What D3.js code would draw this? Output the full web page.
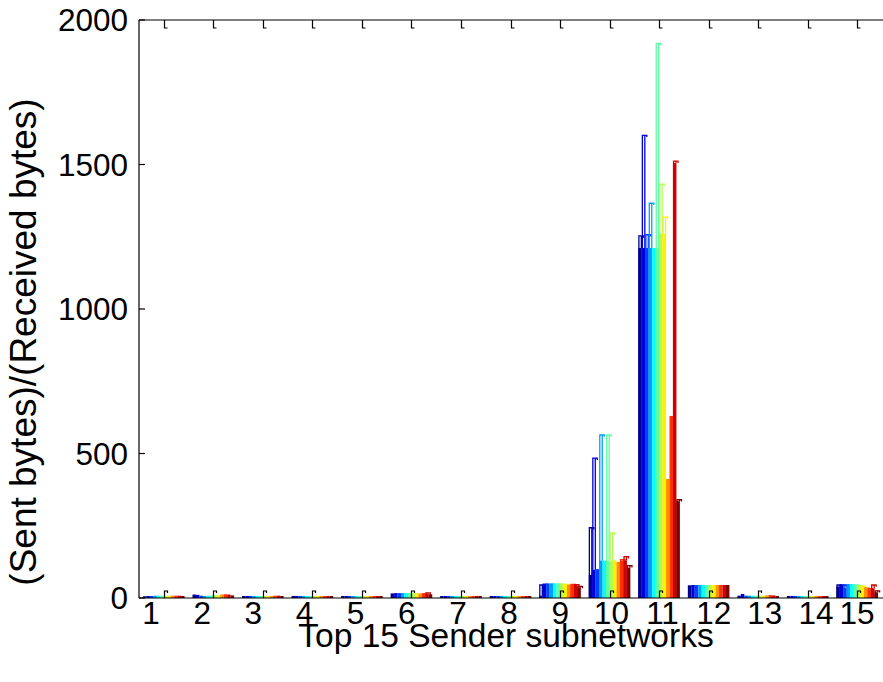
<!DOCTYPE html>
<html>
<head>
<meta charset="utf-8">
<script src="https://cdn.jsdelivr.net/npm/d3@7"></script>
<style>
  html, body { margin: 0; padding: 0; background: #fff; }
  svg { display: block; }
  text { font-family: "Liberation Sans", Arial, Helvetica, sans-serif; fill: #000; }
</style>
</head>
<body>
<svg id="chart" width="883" height="682"></svg>
<script>
// Subnetwork groups on the x axis
const groups = [1, 2, 3, 4, 5, 6, 7, 8, 9, 10, 11, 12, 13, 14, 15];
const yTicks = [0, 500, 1000, 1500, 2000];

// Sent/received byte ratio per series (12 series, one value per group)
const ratioS1  = [6, 12, 7, 7, 7, 16, 7, 7, 8, 80, 1211, 44, 8, 7, 40];
const ratioS2  = [7, 11, 7, 7, 7, 17, 7, 7, 47, 97, 1211, 45, 14, 7, 44];
const ratioS3  = [7, 8, 7, 7, 7, 17, 7, 7, 50, 100, 1211, 45, 8, 7, 36];
const ratioS4  = [8, 7, 7, 7, 7, 17, 7, 7, 51, 129, 1211, 45, 8, 7, 44];
const ratioS5  = [8, 8, 7, 7, 7, 17, 7, 7, 51, 129, 1211, 45, 8, 7, 44];
const ratioS6  = [8, 9, 7, 7, 7, 17, 7, 7, 51, 129, 1211, 45, 8, 7, 40];
const ratioS7  = [8, 10, 7, 7, 7, 17, 7, 7, 51, 125, 1260, 45, 8, 7, 42];
const ratioS8  = [8, 10, 7, 7, 7, 17, 7, 7, 50, 130, 1260, 45, 8, 7, 38];
const ratioS9  = [8, 12, 7, 7, 7, 16, 7, 7, 47, 125, 412, 45, 9, 7, 33];
const ratioS10 = [8, 13, 8, 7, 7, 17, 7, 7, 46, 130, 630, 45, 10, 7, 30];
const ratioS11 = [8, 12, 8, 7, 7, 16, 7, 7, 45, 130, 1505, 45, 9, 7, 32];
const ratioS12 = [7, 9, 7, 7, 7, 13, 7, 7, 37, 105, 335, 45, 7, 7, 20];

// Highest ratio seen per series (upper outline of each bar)
const peakS1  = [6, 12, 7, 7, 7, 16, 7, 7, 45, 243, 1253, 44, 8, 7, 45];
const peakS2  = [7, 11, 7, 7, 7, 17, 7, 7, 48, 484, 1601, 45, 14, 7, 45];
const peakS3  = [7, 8, 7, 7, 7, 17, 7, 7, 50, 100, 1257, 45, 8, 7, 45];
const peakS4  = [8, 7, 7, 7, 7, 17, 7, 7, 51, 564, 1366, 45, 8, 7, 45];
const peakS5  = [8, 8, 7, 7, 7, 17, 7, 7, 51, 129, 1211, 45, 8, 7, 45];
const peakS6  = [8, 9, 7, 7, 7, 17, 7, 7, 51, 564, 1919, 45, 8, 7, 45];
const peakS7  = [8, 10, 7, 7, 7, 17, 7, 7, 51, 225, 1432, 45, 8, 7, 43];
const peakS8  = [8, 10, 7, 7, 7, 17, 7, 7, 50, 130, 1318, 45, 8, 7, 40];
const peakS9  = [8, 12, 7, 7, 7, 16, 7, 7, 47, 125, 412, 45, 9, 7, 35];
const peakS10 = [8, 13, 8, 7, 7, 17, 7, 7, 47, 133, 630, 45, 10, 7, 32];
const peakS11 = [8, 12, 8, 7, 7, 18, 7, 7, 46, 143, 1512, 45, 9, 7, 45];
const peakS12 = [7, 9, 7, 7, 7, 13, 7, 7, 40, 112, 340, 45, 7, 7, 25];

const ratios = [ratioS1, ratioS2, ratioS3, ratioS4, ratioS5, ratioS6,
                ratioS7, ratioS8, ratioS9, ratioS10, ratioS11, ratioS12];
const peaks = [peakS1, peakS2, peakS3, peakS4, peakS5, peakS6,
               peakS7, peakS8, peakS9, peakS10, peakS11, peakS12];

const xTitle = "Top 15 Sender subnetworks";
const yTitle = "(Sent bytes)/(Received bytes)";

// ---- layout ----
const W = 883, H = 682;
const plot = { left: 139, right: 882, top: 20, bottom: 598 };
const tickFont = 31.5;
const xTitleFont = 33.5;
const yTitleFont = 37;

const svg = d3.select("#chart");

const x = d3.scaleLinear().domain([0.5, 15.5]).range([plot.left, plot.right]);
const y = d3.scaleLinear().domain([0, 2000]).range([plot.bottom, plot.top]);
// tick-label placement runs on its own slightly wider spacing
const xLabel = d3.scaleLinear().domain([1, 14]).range([151, 816]);

// jet colour map (64 entries), series sampled across it
function jet(j) {
  const b = j <= 8 ? 0.5 + j / 16 : j <= 24 ? 1 : j <= 40 ? (40 - j) / 16 : 0;
  const g = j <= 8 ? 0 : j <= 24 ? (j - 8) / 16 : j <= 40 ? 1 : j <= 56 ? (56 - j) / 16 : 0;
  const r = j <= 24 ? 0 : j <= 40 ? (j - 24) / 16 : j <= 56 ? 1 : 1 - (j - 56) / 16;
  return d3.rgb(r * 255, g * 255, b * 255).toString();
}
const nSeries = ratios.length;
const colors = d3.range(nSeries).map(s => jet(Math.min(64, Math.floor(s / (nSeries - 1) * 64) + 1)));

const groupWidth = 0.84;
const bw = groupWidth / nSeries;

// ---- bars ----
const barLayer = svg.append("g");
ratios.forEach((row, s) => {
  const col = colors[s];
  const gS = barLayer.append("g");
  row.forEach((v, gi) => {
    const xc = groups[gi] + (s - (nSeries - 1) / 2) * bw;
    const x0 = x(xc - bw / 2), x1 = x(xc + bw / 2);
    const p = peaks[s][gi];
    if (p > v) {
      // outline up to the peak, left/top/right edges with a small cap
      gS.append("path")
        .attr("d", `M${x0 + 0.6},${y(0)} V${y(p)} H${x1 + 1.6} V${y(p) + 1.8} M${x1 - 0.4},${y(p)} V${y(v)}`)
        .attr("fill", "none")
        .attr("stroke", col)
        .attr("stroke-width", 1.3);
    }
    gS.append("rect")
      .attr("x", x0)
      .attr("y", y(v))
      .attr("width", x1 - x0)
      .attr("height", y(0) - y(v))
      .attr("fill", col);
  });
});

// ---- axes ----
const axisG = svg.append("g").attr("stroke", "#000").attr("fill", "none").attr("stroke-width", 1.2);
axisG.append("line").attr("x1", plot.left).attr("x2", W).attr("y1", plot.top).attr("y2", plot.top);
axisG.append("line").attr("x1", plot.left).attr("x2", W).attr("y1", plot.bottom).attr("y2", plot.bottom);
axisG.append("line").attr("x1", plot.left).attr("x2", plot.left).attr("y1", plot.top).attr("y2", plot.bottom);

// x ticks pointing inward on bottom and top edges
groups.forEach(g => {
  const xp = Math.round(x(g)) + 0.5;
  axisG.append("path").attr("d", `M${xp},${plot.bottom} V${plot.bottom - 7} H${xp + 3} V${plot.bottom - 5}`);
  axisG.append("path").attr("d", `M${xp},${plot.top} V${plot.top + 8} H${xp + 3}`);
});
// y ticks
yTicks.forEach(t => {
  axisG.append("line").attr("x1", plot.left).attr("x2", plot.left + 6).attr("y1", y(t)).attr("y2", y(t));
});

// ---- labels ----
yTicks.forEach(t => {
  svg.append("text")
    .attr("x", 128)
    .attr("y", y(t) + 11.3)
    .attr("text-anchor", "end")
    .attr("font-size", tickFont)
    .text(t);
});

groups.forEach(g => {
  const lx = Math.min(xLabel(g), W - 26);
  svg.append("text")
    .attr("x", lx)
    .attr("y", 624)
    .attr("text-anchor", "middle")
    .attr("font-size", tickFont)
    .text(g);
});

svg.append("text")
  .attr("x", 506)
  .attr("y", 647)
  .attr("text-anchor", "middle")
  .attr("font-size", xTitleFont)
  .text(xTitle);

svg.append("text")
  .attr("transform", "translate(36,342) rotate(-90)")
  .attr("text-anchor", "middle")
  .attr("font-size", yTitleFont)
  .text(yTitle);
</script>
</body>
</html>
